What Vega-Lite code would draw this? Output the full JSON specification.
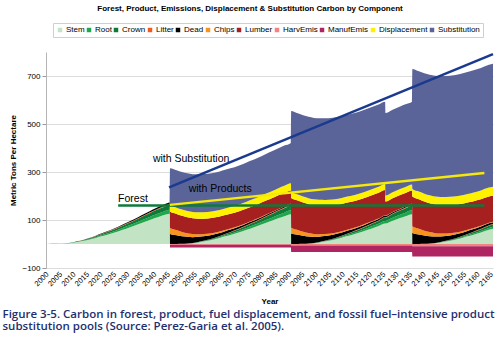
{
  "$schema": "https://vega.github.io/schema/vega-lite/v6.json",
  "width": 447,
  "height": 216,
  "autosize": {"type": "none"},
  "padding": {"left": 46, "top": 52, "right": 7, "bottom": 71},
  "background": "white",
  "config": {"view": {"stroke": null}, "font": "Liberation Sans"},
  "title": {"text": "Forest, Product, Emissions, Displacement & Substitution Carbon by Component", "anchor": "middle", "frame": "group", "dx": -19.5, "offset": 10, "fontSize": 8, "fontWeight": "bold", "color": "#000000", "font": "Liberation Sans"},
  "resolve": {"axis": {"x": "independent"}},
  "layer": [
    {
      "data": {"values": [
        {"Year":1999.5,"Stem":0,"Root":0,"Crown":0,"Litter":0,"Dead":0,"Chips":0,"Lumber":0,"HarvEmis":0,"ManufEmis":0,"Displacement":0,"Substitution":0},
        {"Year":2004,"Stem":0.4,"Root":0.1,"Crown":0.1,"Litter":0,"Dead":0,"Chips":0,"Lumber":0,"HarvEmis":0,"ManufEmis":0,"Displacement":0,"Substitution":0},
        {"Year":2006,"Stem":1.5,"Root":0.2,"Crown":0.2,"Litter":0,"Dead":0.1,"Chips":0,"Lumber":0,"HarvEmis":0,"ManufEmis":0,"Displacement":0,"Substitution":0},
        {"Year":2008,"Stem":3.0,"Root":0.4,"Crown":0.5,"Litter":0.1,"Dead":0.2,"Chips":0,"Lumber":0,"HarvEmis":0,"ManufEmis":0,"Displacement":0,"Substitution":0},
        {"Year":2010,"Stem":6.1,"Root":0.8,"Crown":1.0,"Litter":0.2,"Dead":0.3,"Chips":0,"Lumber":0,"HarvEmis":0,"ManufEmis":0,"Displacement":0,"Substitution":0},
        {"Year":2012,"Stem":9.9,"Root":1.3,"Crown":1.6,"Litter":0.3,"Dead":0.5,"Chips":0,"Lumber":0,"HarvEmis":0,"ManufEmis":0,"Displacement":0,"Substitution":0},
        {"Year":2015,"Stem":16.7,"Root":2.2,"Crown":2.6,"Litter":0.4,"Dead":0.9,"Chips":0,"Lumber":0,"HarvEmis":0,"ManufEmis":0,"Displacement":0,"Substitution":0},
        {"Year":2018,"Stem":25.1,"Root":3.3,"Crown":4.0,"Litter":0.7,"Dead":1.3,"Chips":0,"Lumber":0,"HarvEmis":0,"ManufEmis":0,"Displacement":0,"Substitution":0},
        {"Year":2020,"Stem":31.9,"Root":4.2,"Crown":5.0,"Litter":0.8,"Dead":1.7,"Chips":0,"Lumber":0,"HarvEmis":0,"ManufEmis":0,"Displacement":0,"Substitution":0},
        {"Year":2022,"Stem":38.0,"Root":5.0,"Crown":6.0,"Litter":1.0,"Dead":2.0,"Chips":0,"Lumber":0,"HarvEmis":0,"ManufEmis":0,"Displacement":0,"Substitution":0},
        {"Year":2025,"Stem":47.9,"Root":6.3,"Crown":7.6,"Litter":1.3,"Dead":2.5,"Chips":0,"Lumber":0,"HarvEmis":0,"ManufEmis":0,"Displacement":0,"Substitution":0},
        {"Year":2028,"Stem":59.3,"Root":7.8,"Crown":9.4,"Litter":1.6,"Dead":3.1,"Chips":0,"Lumber":0,"HarvEmis":0,"ManufEmis":0,"Displacement":0,"Substitution":0},
        {"Year":2030,"Stem":66.9,"Root":8.8,"Crown":10.6,"Litter":1.8,"Dead":3.5,"Chips":0,"Lumber":0,"HarvEmis":0,"ManufEmis":0,"Displacement":0,"Substitution":0},
        {"Year":2032,"Stem":74.5,"Root":9.8,"Crown":11.8,"Litter":2.0,"Dead":3.9,"Chips":0,"Lumber":0,"HarvEmis":0,"ManufEmis":0,"Displacement":0,"Substitution":0},
        {"Year":2035,"Stem":87.4,"Root":11.5,"Crown":13.8,"Litter":2.3,"Dead":4.6,"Chips":0,"Lumber":0,"HarvEmis":0,"ManufEmis":0,"Displacement":0,"Substitution":0},
        {"Year":2038,"Stem":99.6,"Root":13.1,"Crown":15.7,"Litter":2.6,"Dead":5.2,"Chips":0,"Lumber":0,"HarvEmis":0,"ManufEmis":0,"Displacement":0,"Substitution":0},
        {"Year":2040,"Stem":107.9,"Root":14.2,"Crown":17.0,"Litter":2.8,"Dead":5.7,"Chips":0,"Lumber":0,"HarvEmis":0,"ManufEmis":0,"Displacement":0,"Substitution":0},
        {"Year":2042,"Stem":115.5,"Root":15.2,"Crown":18.2,"Litter":3.0,"Dead":6.1,"Chips":0,"Lumber":0,"HarvEmis":0,"ManufEmis":0,"Displacement":0,"Substitution":0},
        {"Year":2044,"Stem":122.4,"Root":16.1,"Crown":19.3,"Litter":3.2,"Dead":6.4,"Chips":0,"Lumber":0,"HarvEmis":0,"ManufEmis":0,"Displacement":0,"Substitution":0},
        {"Year":2045.45,"Stem":126.2,"Root":16.6,"Crown":19.9,"Litter":3.3,"Dead":6.6,"Chips":0,"Lumber":0,"HarvEmis":0,"ManufEmis":0,"Displacement":0,"Substitution":0},
        {"Year":2045.55,"Stem":0,"Root":0,"Crown":0,"Litter":0,"Dead":42,"Chips":25,"Lumber":68,"HarvEmis":-3,"ManufEmis":-12,"Displacement":26,"Substitution":155},
        {"Year":2048,"Stem":0,"Root":0,"Crown":0,"Litter":0,"Dead":36.7,"Chips":21.2,"Lumber":67.4,"HarvEmis":-3,"ManufEmis":-12,"Displacement":26.2,"Substitution":155.6},
        {"Year":2050,"Stem":0.4,"Root":0.1,"Crown":0.1,"Litter":0,"Dead":32.0,"Chips":17.9,"Lumber":66.8,"HarvEmis":-3,"ManufEmis":-12,"Displacement":26.4,"Substitution":156.2},
        {"Year":2052,"Stem":1.5,"Root":0.2,"Crown":0.2,"Litter":0,"Dead":28.0,"Chips":15.2,"Lumber":66.2,"HarvEmis":-3,"ManufEmis":-12,"Displacement":26.5,"Substitution":156.7},
        {"Year":2054,"Stem":3.0,"Root":0.4,"Crown":0.5,"Litter":0.1,"Dead":24.6,"Chips":12.8,"Lumber":65.6,"HarvEmis":-3,"ManufEmis":-12,"Displacement":26.7,"Substitution":157.3},
        {"Year":2056,"Stem":6.1,"Root":0.8,"Crown":1.0,"Litter":0.2,"Dead":21.6,"Chips":10.9,"Lumber":65.0,"HarvEmis":-3,"ManufEmis":-12,"Displacement":26.9,"Substitution":157.9},
        {"Year":2058,"Stem":9.9,"Root":1.3,"Crown":1.6,"Litter":0.3,"Dead":19.0,"Chips":9.2,"Lumber":64.4,"HarvEmis":-3,"ManufEmis":-12,"Displacement":27.1,"Substitution":158.5},
        {"Year":2061,"Stem":16.7,"Root":2.2,"Crown":2.6,"Litter":0.4,"Dead":15.7,"Chips":7.2,"Lumber":63.6,"HarvEmis":-3,"ManufEmis":-12,"Displacement":27.4,"Substitution":159.4},
        {"Year":2064,"Stem":25.1,"Root":3.3,"Crown":4.0,"Litter":0.7,"Dead":13.0,"Chips":5.6,"Lumber":62.7,"HarvEmis":-3,"ManufEmis":-12,"Displacement":27.6,"Substitution":160.2},
        {"Year":2066,"Stem":31.9,"Root":4.2,"Crown":5.0,"Litter":0.8,"Dead":11.6,"Chips":4.7,"Lumber":62.2,"HarvEmis":-3,"ManufEmis":-12,"Displacement":27.8,"Substitution":160.8},
        {"Year":2068,"Stem":38.0,"Root":5.0,"Crown":6.0,"Litter":1.0,"Dead":10.3,"Chips":4.0,"Lumber":61.6,"HarvEmis":-3,"ManufEmis":-12,"Displacement":28,"Substitution":161.4},
        {"Year":2071,"Stem":47.9,"Root":6.3,"Crown":7.6,"Litter":1.3,"Dead":8.7,"Chips":3.1,"Lumber":60.8,"HarvEmis":-3,"ManufEmis":-12,"Displacement":28.3,"Substitution":162.3},
        {"Year":2074,"Stem":59.3,"Root":7.8,"Crown":9.4,"Litter":1.6,"Dead":7.4,"Chips":2.4,"Lumber":60.0,"HarvEmis":-3,"ManufEmis":-12,"Displacement":28.5,"Substitution":163.1},
        {"Year":2076,"Stem":66.9,"Root":8.8,"Crown":10.6,"Litter":1.8,"Dead":6.7,"Chips":2.1,"Lumber":59.4,"HarvEmis":-3,"ManufEmis":-12,"Displacement":28.7,"Substitution":163.7},
        {"Year":2078,"Stem":74.5,"Root":9.8,"Crown":11.8,"Litter":2.0,"Dead":6.1,"Chips":1.7,"Lumber":58.9,"HarvEmis":-3,"ManufEmis":-12,"Displacement":28.9,"Substitution":164.3},
        {"Year":2081,"Stem":87.4,"Root":11.5,"Crown":13.8,"Litter":2.3,"Dead":5.3,"Chips":1.4,"Lumber":58.1,"HarvEmis":-3,"ManufEmis":-12,"Displacement":29.2,"Substitution":165.2},
        {"Year":2084,"Stem":99.6,"Root":13.1,"Crown":15.7,"Litter":2.6,"Dead":4.6,"Chips":1.1,"Lumber":57.3,"HarvEmis":-3,"ManufEmis":-12,"Displacement":29.4,"Substitution":166},
        {"Year":2086,"Stem":107.9,"Root":14.2,"Crown":17.0,"Litter":2.8,"Dead":4.3,"Chips":0.9,"Lumber":56.8,"HarvEmis":-3,"ManufEmis":-12,"Displacement":29.6,"Substitution":166.6},
        {"Year":2088,"Stem":115.5,"Root":15.2,"Crown":18.2,"Litter":3.0,"Dead":4.0,"Chips":0.8,"Lumber":56.3,"HarvEmis":-3,"ManufEmis":-12,"Displacement":29.8,"Substitution":167.2},
        {"Year":2090.45,"Stem":123.9,"Root":16.3,"Crown":19.6,"Litter":3.3,"Dead":3.7,"Chips":0.6,"Lumber":55.6,"HarvEmis":-3,"ManufEmis":-12,"Displacement":30,"Substitution":168},
        {"Year":2090.55,"Stem":0,"Root":0,"Crown":0,"Litter":0,"Dead":44,"Chips":24,"Lumber":123.6,"HarvEmis":-6,"ManufEmis":-27,"Displacement":25,"Substitution":338},
        {"Year":2093,"Stem":0,"Root":0,"Crown":0,"Litter":0,"Dead":38.4,"Chips":20.3,"Lumber":122.4,"HarvEmis":-6,"ManufEmis":-27,"Displacement":25,"Substitution":338.3},
        {"Year":2095,"Stem":0.4,"Root":0.1,"Crown":0.1,"Litter":0,"Dead":33.5,"Chips":17.2,"Lumber":121.3,"HarvEmis":-6,"ManufEmis":-27,"Displacement":25,"Substitution":338.6},
        {"Year":2097,"Stem":1.5,"Root":0.2,"Crown":0.2,"Litter":0,"Dead":29.3,"Chips":14.6,"Lumber":120.3,"HarvEmis":-6,"ManufEmis":-27,"Displacement":25,"Substitution":339},
        {"Year":2099,"Stem":3.0,"Root":0.4,"Crown":0.5,"Litter":0.1,"Dead":25.7,"Chips":12.3,"Lumber":119.2,"HarvEmis":-6,"ManufEmis":-27,"Displacement":25,"Substitution":339.3},
        {"Year":2101,"Stem":6.1,"Root":0.8,"Crown":1.0,"Litter":0.2,"Dead":22.6,"Chips":10.4,"Lumber":118.1,"HarvEmis":-6,"ManufEmis":-27,"Displacement":25,"Substitution":339.6},
        {"Year":2103,"Stem":9.9,"Root":1.3,"Crown":1.6,"Litter":0.3,"Dead":19.8,"Chips":8.8,"Lumber":117.0,"HarvEmis":-6,"ManufEmis":-27,"Displacement":25,"Substitution":339.9},
        {"Year":2106,"Stem":16.7,"Root":2.2,"Crown":2.6,"Litter":0.4,"Dead":16.4,"Chips":6.9,"Lumber":115.5,"HarvEmis":-6,"ManufEmis":-27,"Displacement":25,"Substitution":340.4},
        {"Year":2109,"Stem":25.1,"Root":3.3,"Crown":4.0,"Litter":0.7,"Dead":13.6,"Chips":5.4,"Lumber":113.9,"HarvEmis":-6,"ManufEmis":-27,"Displacement":25,"Substitution":340.9},
        {"Year":2111,"Stem":31.9,"Root":4.2,"Crown":5.0,"Litter":0.8,"Dead":12.1,"Chips":4.5,"Lumber":112.9,"HarvEmis":-6,"ManufEmis":-27,"Displacement":25,"Substitution":341.2},
        {"Year":2113,"Stem":38.0,"Root":5.0,"Crown":6.0,"Litter":1.0,"Dead":10.7,"Chips":3.8,"Lumber":111.9,"HarvEmis":-6,"ManufEmis":-27,"Displacement":25,"Substitution":341.5},
        {"Year":2116,"Stem":47.9,"Root":6.3,"Crown":7.6,"Litter":1.3,"Dead":9.1,"Chips":3.0,"Lumber":110.4,"HarvEmis":-6,"ManufEmis":-27,"Displacement":25,"Substitution":342},
        {"Year":2119,"Stem":59.3,"Root":7.8,"Crown":9.4,"Litter":1.6,"Dead":7.7,"Chips":2.3,"Lumber":109.0,"HarvEmis":-6,"ManufEmis":-27,"Displacement":25,"Substitution":342.5},
        {"Year":2121,"Stem":66.9,"Root":8.8,"Crown":10.6,"Litter":1.8,"Dead":6.9,"Chips":2.0,"Lumber":108.0,"HarvEmis":-6,"ManufEmis":-27,"Displacement":25,"Substitution":342.8},
        {"Year":2123,"Stem":74.5,"Root":9.8,"Crown":11.8,"Litter":2.0,"Dead":6.3,"Chips":1.7,"Lumber":107.0,"HarvEmis":-6,"ManufEmis":-27,"Displacement":25,"Substitution":343.1},
        {"Year":2125.45,"Stem":85.1,"Root":11.2,"Crown":13.4,"Litter":2.2,"Dead":5.6,"Chips":1.3,"Lumber":105.7,"HarvEmis":-6,"ManufEmis":-27,"Displacement":25,"Substitution":343.5},
        {"Year":2125.55,"Stem":85.1,"Root":11.2,"Crown":13.4,"Litter":2.2,"Dead":5.6,"Chips":1.3,"Lumber":58.2,"HarvEmis":-6,"ManufEmis":-27,"Displacement":25,"Substitution":343.5},
        {"Year":2128,"Stem":95.8,"Root":12.6,"Crown":15.1,"Litter":2.5,"Dead":5.0,"Chips":1.1,"Lumber":57.6,"HarvEmis":-6,"ManufEmis":-27,"Displacement":25,"Substitution":343.9},
        {"Year":2131,"Stem":107.9,"Root":14.2,"Crown":17.0,"Litter":2.8,"Dead":4.4,"Chips":0.9,"Lumber":56.8,"HarvEmis":-6,"ManufEmis":-27,"Displacement":25,"Substitution":344.4},
        {"Year":2133,"Stem":115.5,"Root":15.2,"Crown":18.2,"Litter":3.0,"Dead":4.1,"Chips":0.7,"Lumber":56.3,"HarvEmis":-6,"ManufEmis":-27,"Displacement":25,"Substitution":344.7},
        {"Year":2135.45,"Stem":123.9,"Root":16.3,"Crown":19.6,"Litter":3.3,"Dead":3.8,"Chips":0.6,"Lumber":55.6,"HarvEmis":-6,"ManufEmis":-27,"Displacement":25,"Substitution":345},
        {"Year":2135.55,"Stem":0,"Root":0,"Crown":0,"Litter":0,"Dead":46,"Chips":28,"Lumber":123.6,"HarvEmis":-9,"ManufEmis":-43,"Displacement":32,"Substitution":500},
        {"Year":2138,"Stem":0,"Root":0,"Crown":0,"Litter":0,"Dead":40.1,"Chips":23.7,"Lumber":122.4,"HarvEmis":-9,"ManufEmis":-43,"Displacement":32.4,"Substitution":500.8},
        {"Year":2140,"Stem":0.4,"Root":0.1,"Crown":0.1,"Litter":0,"Dead":35.0,"Chips":20.1,"Lumber":121.3,"HarvEmis":-9,"ManufEmis":-43,"Displacement":32.8,"Substitution":501.6},
        {"Year":2142,"Stem":1.5,"Root":0.2,"Crown":0.2,"Litter":0,"Dead":30.6,"Chips":17.0,"Lumber":120.3,"HarvEmis":-9,"ManufEmis":-43,"Displacement":33.2,"Substitution":502.4},
        {"Year":2144,"Stem":3.0,"Root":0.4,"Crown":0.5,"Litter":0.1,"Dead":26.9,"Chips":14.4,"Lumber":119.2,"HarvEmis":-9,"ManufEmis":-43,"Displacement":33.6,"Substitution":503.2},
        {"Year":2146,"Stem":6.1,"Root":0.8,"Crown":1.0,"Litter":0.2,"Dead":23.6,"Chips":12.2,"Lumber":118.1,"HarvEmis":-9,"ManufEmis":-43,"Displacement":34,"Substitution":504},
        {"Year":2148,"Stem":9.9,"Root":1.3,"Crown":1.6,"Litter":0.3,"Dead":20.7,"Chips":10.3,"Lumber":117.0,"HarvEmis":-9,"ManufEmis":-43,"Displacement":34.4,"Substitution":504.8},
        {"Year":2151,"Stem":16.7,"Root":2.2,"Crown":2.6,"Litter":0.4,"Dead":17.1,"Chips":8.0,"Lumber":115.5,"HarvEmis":-9,"ManufEmis":-43,"Displacement":35,"Substitution":506},
        {"Year":2154,"Stem":25.1,"Root":3.3,"Crown":4.0,"Litter":0.7,"Dead":14.1,"Chips":6.2,"Lumber":113.9,"HarvEmis":-9,"ManufEmis":-43,"Displacement":35.6,"Substitution":507.2},
        {"Year":2156,"Stem":31.9,"Root":4.2,"Crown":5.0,"Litter":0.8,"Dead":12.6,"Chips":5.3,"Lumber":112.9,"HarvEmis":-9,"ManufEmis":-43,"Displacement":36,"Substitution":508},
        {"Year":2158,"Stem":38.0,"Root":5.0,"Crown":6.0,"Litter":1.0,"Dead":11.2,"Chips":4.5,"Lumber":111.9,"HarvEmis":-9,"ManufEmis":-43,"Displacement":36.4,"Substitution":508.8},
        {"Year":2161,"Stem":47.9,"Root":6.3,"Crown":7.6,"Litter":1.3,"Dead":9.4,"Chips":3.5,"Lumber":110.4,"HarvEmis":-9,"ManufEmis":-43,"Displacement":37,"Substitution":510},
        {"Year":2164,"Stem":59.3,"Root":7.8,"Crown":9.4,"Litter":1.6,"Dead":7.9,"Chips":2.7,"Lumber":109.0,"HarvEmis":-9,"ManufEmis":-43,"Displacement":37.6,"Substitution":511.2},
        {"Year":2165.5,"Stem":63.1,"Root":8.3,"Crown":10.0,"Litter":1.7,"Dead":7.3,"Chips":2.4,"Lumber":108.2,"HarvEmis":-9,"ManufEmis":-43,"Displacement":37.9,"Substitution":511.8}
      ]},
      "transform": [
        {"fold": ["Stem","Root","Crown","Litter","Dead","Chips","Lumber","HarvEmis","ManufEmis","Displacement","Substitution"], "as": ["Component","Value"]},
        {"lookup": "Component", "from": {"data": {"values": [
          {"Component": "Stem", "rank": 1}, {"Component": "Root", "rank": 2}, {"Component": "Crown", "rank": 3},
          {"Component": "Litter", "rank": 4}, {"Component": "Dead", "rank": 5}, {"Component": "Chips", "rank": 6},
          {"Component": "Lumber", "rank": 7}, {"Component": "HarvEmis", "rank": 8}, {"Component": "ManufEmis", "rank": 9},
          {"Component": "Displacement", "rank": 10}, {"Component": "Substitution", "rank": 11}]}, "key": "Component", "fields": ["rank"]}}
      ],
      "mark": {"type": "area", "interpolate": "monotone"},
      "encoding": {
        "x": {"field": "Year", "type": "quantitative", "scale": {"domain": [1999.5, 2165.5], "nice": false, "zero": false},
          "axis": {"orient": "bottom", "values": [2000,2005,2010,2015,2020,2025,2030,2035,2040,2045,2050,2055,2060,2065,2070,2075,2080,2085,2090,2095,2100,2105,2110,2115,2120,2125,2130,2135,2140,2145,2150,2155,2160,2165], "format": "d", "labelAngle": -45, "labelAlign": "right", "labelBaseline": "middle", "labelFontSize": 7.5, "labelPadding": 5, "labelColor": "#000", "labelFlush": false, "labelOverlap": false, "ticks": false, "domain": false, "grid": false, "title": "Year", "titleFontSize": 8, "titleFontWeight": "bold", "titleColor": "#000", "titleBaseline": "middle", "titleY": 33}},
        "y": {"field": "Value", "type": "quantitative", "stack": "zero", "title": "Metric Tons Per Hectare", "scale": {"domain": [-100, 800], "nice": false},
          "axis": {"values": [-100,0,100,200,300,400,500,600,700,800], "labelFontSize": 8, "labelColor": "#000", "tickSize": 4, "tickColor": "#999", "labelPadding": 2, "domainColor": "#b5b5b5", "gridColor": "#dcdcdc", "gridWidth": 1.2, "titleFontSize": 8, "titleFontWeight": "bold", "titleColor": "#000", "titleX": -33, "titleY": 108, "titleAlign": "center", "titleBaseline": "middle"}},
        "order": {"field": "rank", "type": "quantitative", "sort": "ascending"},
        "color": {"field": "Component", "type": "nominal",
          "sort": ["Stem","Root","Crown","Litter","Dead","Chips","Lumber","HarvEmis","ManufEmis","Displacement","Substitution"],
          "scale": {"domain": ["Stem","Root","Crown","Litter","Dead","Chips","Lumber","HarvEmis","ManufEmis","Displacement","Substitution"],
                    "range": ["#c3e4c4","#1fa84a","#0d7a3a","#f05a1e","#000000","#f7941d","#a6201f","#f4827d","#ae2562","#fff200","#5b6499"]},
          "legend": {"orient": "none", "legendX": 7, "legendY": -29, "direction": "horizontal", "columns": 11, "title": null, "symbolType": "square", "symbolSize": 20, "symbolStrokeWidth": 0, "labelFontSize": 8, "labelColor": "#000", "labelOffset": 2, "columnPadding": 0, "padding": 3, "strokeColor": "#cfcfcf", "fillColor": "#ffffff"}}
      }
    },
    {
      "data": {"values": [
        {"Series": "Forest", "Year": 2026.3, "Value": 160},
        {"Series": "Forest", "Year": 2162.3, "Value": 160},
        {"Series": "with Products", "Year": 2045.5, "Value": 163},
        {"Series": "with Products", "Year": 2162.3, "Value": 296},
        {"Series": "with Substitution", "Year": 2045.2, "Value": 236},
        {"Series": "with Substitution", "Year": 2165.5, "Value": 791}
      ]},
      "mark": {"type": "line", "strokeWidth": 2.5},
      "encoding": {
        "x": {"field": "Year", "type": "quantitative", "scale": {"domain": [1999.5, 2165.5], "nice": false, "zero": false},
          "axis": {"orient": "top", "labels": false, "ticks": false, "domain": false, "grid": false,
            "title": ["Figure 3-5. Carbon in forest, product, fuel displacement, and fossil fuel\u2013intensive product", "substitution pools (Source: Perez-Garia et al. 2005)."],
            "titleFont": "Open Sans", "titleFontSize": 11.5, "titleFontWeight": 600, "titleColor": "#23306f", "titleAngle": 0, "titleAlign": "left", "titleBaseline": "top", "titleX": -44, "titleY": 256, "titleLineHeight": 12.7}},
        "y": {"field": "Value", "type": "quantitative", "title": "Metric Tons Per Hectare", "scale": {"domain": [-100, 800], "nice": false}},
        "stroke": {"field": "Series", "type": "nominal", "scale": {"domain": ["Forest", "with Products", "with Substitution"], "range": ["#0d7a3a", "#f5e80c", "#1a3a8f"]}, "legend": null}
      }
    },
    {
      "data": {"values": [
        {"label": "Forest", "Year": 2031.8, "Value": 189},
        {"label": "with Products", "Year": 2064.2, "Value": 229},
        {"label": "with Substitution", "Year": 2053.4, "Value": 355}
      ]},
      "mark": {"type": "text", "fontSize": 10.5, "font": "Liberation Sans", "color": "#000", "align": "center", "baseline": "middle"},
      "encoding": {
        "x": {"field": "Year", "type": "quantitative", "scale": {"domain": [1999.5, 2165.5], "nice": false, "zero": false}, "axis": null},
        "y": {"field": "Value", "type": "quantitative", "title": "Metric Tons Per Hectare", "scale": {"domain": [-100, 800], "nice": false}},
        "text": {"field": "label"}
      }
    }
  ]
}
